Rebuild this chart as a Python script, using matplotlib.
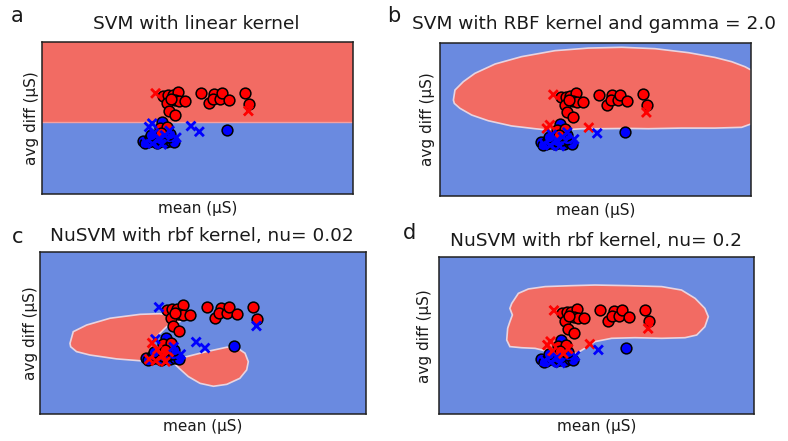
import matplotlib
matplotlib.use("Agg")
import matplotlib.pyplot as plt

# ---------------- data (relative feature units, 0-100) ----------------
titles = ["SVM with linear kernel", "SVM with RBF kernel and gamma = 2.0",
          "NuSVM with rbf kernel, nu= 0.02", "NuSVM with rbf kernel, nu= 0.2"]
letters = ["a", "b", "c", "d"]
xlabel = "mean (\u00b5S)"
ylabel = "avg diff (\u00b5S)"

# training points, class 1 (red)
red_x = [39.0, 40.6, 42.0, 43.8, 42.7, 44.0, 46.0, 40.1, 41.4, 40.9, 42.7,
         51.1, 53.8, 55.4, 54.9, 57.3, 58.0, 60.3, 65.3, 66.6,
         37.8, 40.3, 38.3]
red_y = [64.6, 64.8, 65.2, 67.2, 61.7, 61.1, 61.1, 59.5, 62.6, 54.5, 51.6,
         66.1, 59.5, 65.6, 62.6, 62.6, 66.1, 61.7, 66.5, 59.1,
         43.1, 43.8, 40.0]
# training points, class 0 (blue)
blue_x = [38.6, 59.4, 32.5, 34.0, 35.5, 37.0, 38.5, 40.0, 41.5, 42.5, 33.2,
          34.8, 36.3, 39.2, 40.8, 37.8, 35.0, 41.0]
blue_y = [47.1, 42.0, 35.0, 34.0, 34.8, 33.8, 34.5, 34.0, 35.0, 34.2, 33.5,
          36.5, 37.5, 36.8, 37.5, 35.8, 38.5, 39.5]

# test points and predicted class in each panel (1 red, 0 blue)
test_x = [36.5, 66.4, 47.9, 50.6, 35.4, 34.4, 36.0, 33.5, 35.5, 37.5, 39.5, 43.2, 41.0, 38.5]
test_y = [66.1, 54.5, 44.6, 40.9, 46.3, 44.0, 40.0, 34.0, 33.0, 36.0, 38.5, 37.0, 41.5, 32.5]
pred = [
    [1, 1, 0, 0, 0, 0, 0, 0, 0, 0, 0, 0, 0, 0],
    [1, 1, 1, 0, 1, 1, 0, 0, 0, 0, 0, 0, 0, 0],
    [0, 0, 0, 0, 0, 1, 1, 1, 1, 1, 1, 0, 0, 1],
    [1, 1, 1, 0, 1, 1, 1, 0, 0, 0, 1, 0, 1, 0],
]

# decision regions (class-1 area outlines)
lin_boundary_y = 47.5
rbf_b_x = [4.4, 4.9, 7.6, 11.3, 17.8, 26.3, 37.0, 47.8, 58.5, 69.2, 79.9, 88.4, 93.8, 98.1, 100,
           100, 97.0, 88.4, 77.7, 67.0, 60.6, 52.0, 45.6, 39.2, 34.9, 30.6, 23.1, 15.6, 10.3, 6.5, 4.7]
rbf_b_y = [62.6, 69.1, 74.6, 80.0, 86.1, 90.9, 94.8, 96.5, 97.0, 96.1, 93.5, 90.4, 87.6, 84.3, 82.2,
           47.0, 44.8, 44.3, 44.3, 43.9, 44.1, 43.9, 43.9, 43.0, 43.0, 43.9, 45.7, 49.1, 52.8, 57.2, 60.4]
nu_c_left_x = [9.2, 10.2, 14.3, 21.5, 30.7, 36.8, 38.9, 43.5, 42.9, 39.4, 37.8, 35.8, 34.8, 35.6,
               38.9, 31.7, 23.5, 15.3, 11.2, 9.4]
nu_c_left_y = [43.8, 51.0, 55.1, 59.3, 61.7, 62.1, 61.3, 60.3, 57.2, 55.1, 52.1, 47.9, 43.8, 38.7,
               32.5, 32.9, 34.2, 36.6, 38.7, 41.7]
nu_c_right_x = [40.9, 45.0, 51.1, 57.3, 60.3, 62.9, 63.9, 63.4, 61.3, 57.3, 53.2, 49.1, 45.5, 42.9, 41.4]
nu_c_right_y = [32.5, 35.6, 38.7, 41.4, 41.2, 37.7, 32.5, 27.4, 22.2, 18.5, 17.3, 19.1, 23.3, 28.0, 30.9]
nu_d_x = [23.1, 25.2, 28.4, 33.7, 42.1, 49.5, 60.1, 70.7, 77.0, 81.3, 84.4, 85.5, 84.4, 81.8, 78.1,
          70.7, 62.2, 54.8, 49.5, 46.3, 43.7, 36.8, 32.6, 30.5, 26.2, 22.5, 21.5, 21.8, 22.5, 23.3, 22.5]
nu_d_y = [70.6, 77.0, 79.8, 81.3, 81.9, 82.3, 81.9, 81.3, 79.1, 73.8, 67.4, 62.1, 55.7, 50.4, 48.7,
          48.3, 48.7, 48.3, 46.2, 41.9, 38.7, 38.1, 40.9, 41.9, 42.3, 43.0, 47.2, 54.7, 58.9, 63.2, 67.4]

# ---------------- layout / style ----------------
W, H = 788, 441
RED_BG = "#f26b63"
BLUE_BG = "#6a8ae0"
EDGE = "#e8d4e0"

boxes = [(42.3, 352.7, 41.7, 194.0), (439.7, 751.0, 42.7, 196.0),
         (40.0, 366.0, 252.3, 414.3), (439.0, 754.0, 257.3, 414.0)]
title_pos = [(196, 24), (594, 24), (202, 236), (596, 241)]
letter_pos = [(17, 16.5), (394, 16), (17.5, 237), (409, 233)]
xlab_y = [208, 210, 427, 427]
ylab_x = [32, 427, 30, 425]

fig = plt.figure(figsize=(W / 100, H / 100), dpi=100)

for i in range(4):
    L, R, T, B = boxes[i]
    ax = fig.add_axes([L / W, 1 - B / H, (R - L) / W, (B - T) / H])
    ax.set_facecolor(BLUE_BG)
    ax.set_xlim(0, 100)
    ax.set_ylim(0, 100)
    if i == 0:
        ax.axhspan(lin_boundary_y, 100, color=RED_BG, lw=0)
        ax.axhline(lin_boundary_y, color="#f4a0a0", lw=1.0)
    elif i == 1:
        ax.fill(rbf_b_x, rbf_b_y, facecolor=RED_BG, edgecolor=EDGE, lw=1.2)
    elif i == 2:
        ax.fill(nu_c_left_x, nu_c_left_y, facecolor=RED_BG, edgecolor=EDGE, lw=1.2)
        ax.fill(nu_c_right_x, nu_c_right_y, facecolor=RED_BG, edgecolor=EDGE, lw=1.2)
    else:
        ax.fill(nu_d_x, nu_d_y, facecolor=RED_BG, edgecolor=EDGE, lw=1.2)

    ax.scatter(blue_x, blue_y, s=60, c="#0000ff", edgecolors="black", linewidths=1.1, zorder=3)
    ax.scatter(red_x, red_y, s=60, c="#ff0000", edgecolors="black", linewidths=1.1, zorder=3)
    cols = ["#ff0000" if p == 1 else "#0000ff" for p in pred[i]]
    ax.scatter(test_x, test_y, s=42, c=cols, marker="x", linewidths=2.0, zorder=4)

    ax.set_xticks([])
    ax.set_yticks([])
    for sp in ax.spines.values():
        sp.set_linewidth(1.1)
        sp.set_color("#202020")

    fig.text(title_pos[i][0] / W, 1 - title_pos[i][1] / H, titles[i],
             ha="center", va="center", fontsize=13.3, color="#1a1a1a")
    fig.text(letter_pos[i][0] / W, 1 - letter_pos[i][1] / H, letters[i],
             ha="center", va="center", fontsize=15, color="#1a1a1a")
    fig.text(((L + R) / 2) / W, 1 - xlab_y[i] / H, xlabel,
             ha="center", va="center", fontsize=11, color="#1a1a1a")
    fig.text(ylab_x[i] / W, 1 - ((T + B) / 2) / H, ylabel, rotation=90,
             ha="center", va="center", fontsize=11, color="#1a1a1a")

fig.savefig("out.png", dpi=100)
